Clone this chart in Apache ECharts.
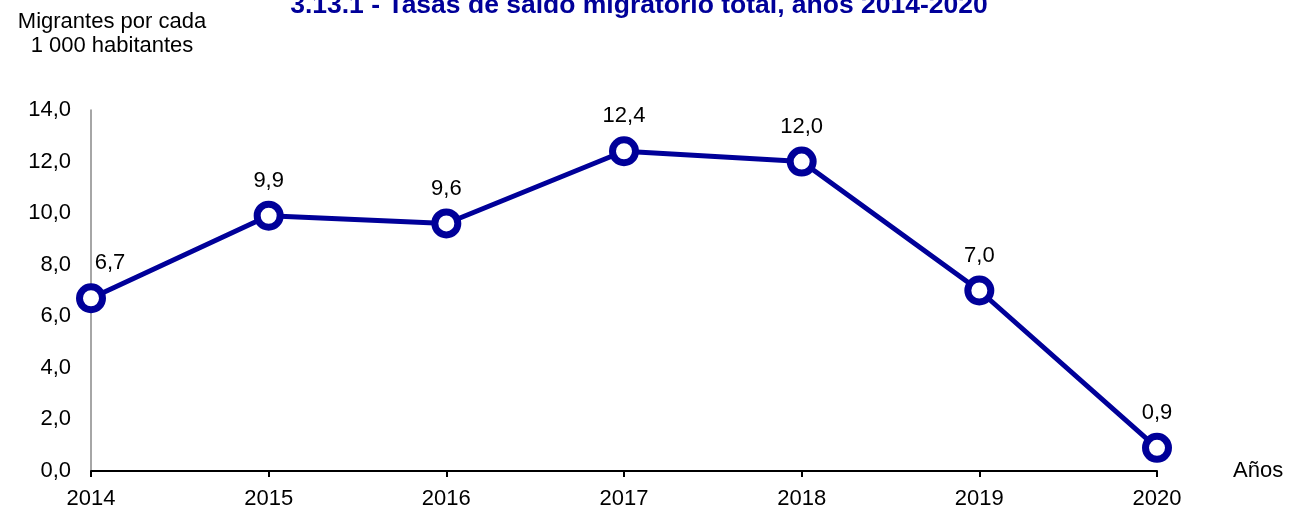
<!DOCTYPE html>
<html>
<head>
<meta charset="utf-8">
<script src="https://cdn.jsdelivr.net/npm/echarts@6/dist/echarts.min.js"></script>
<style>
  html, body { margin: 0; padding: 0; background: #fff; }
  #echart { width: 1292px; height: 510px; }
</style>
</head>
<body>
<div id="echart"></div>
<script>
var years = ['2014', '2015', '2016', '2017', '2018', '2019', '2020'];
var tasas = [6.7, 9.9, 9.6, 12.4, 12.0, 7.0, 0.9];
var yTicks = [0, 2, 4, 6, 8, 10, 12, 14];

function coma(v, d) {
    return v.toFixed(d).replace('.', ',');
}

var myChart = echarts.init(document.getElementById('echart'));
var option = {
    animation: false,
    textStyle: { fontFamily: 'Liberation Sans, Arial, sans-serif' },
    title: {
        text: '3.13.1 - Tasas de saldo migratorio total, años 2014-2020',
        left: 634,
        textAlign: 'center',
        top: -13,
        textStyle: { color: '#000099', fontSize: 26.5, fontWeight: 'bold' }
    },
    graphic: [
        {
            type: 'text',
            style: {
                text: 'Migrantes por cada\n1 000 habitantes',
                x: 112, y: 10, align: 'center', lineHeight: 24,
                fill: '#000', font: '22px "Liberation Sans", Arial, sans-serif'
            }
        }
    ],
    grid: { left: 91, right: 135, top: 110, bottom: 39 },
    xAxis: {
        type: 'category',
        data: years,
        boundaryGap: false,
        name: 'Años',
        nameLocation: 'end',
        nameGap: 76,
        nameTextStyle: { fontSize: 22, color: '#000', padding: [0, 0, 8, 0] },
        axisLine: { lineStyle: { color: '#000', width: 2 } },
        axisTick: { show: true, length: 6, lineStyle: { color: '#000', width: 2 } },
        axisLabel: { fontSize: 22, color: '#000', margin: 17 },
        splitLine: { show: false }
    },
    yAxis: {
        type: 'value',
        min: yTicks[0],
        max: yTicks[yTicks.length - 1],
        interval: 2,
        axisLine: { show: true, lineStyle: { color: '#888', width: 1.5 } },
        axisTick: { show: false },
        splitLine: { show: false },
        axisLabel: {
            fontSize: 22, color: '#000', margin: 20,
            formatter: function (v) { return coma(v, 1); }
        }
    },
    series: [
        {
            type: 'line',
            data: tasas,
            symbol: 'circle',
            symbolSize: 23,
            lineStyle: { color: '#000099', width: 5 },
            itemStyle: { color: '#fff', borderColor: '#000099', borderWidth: 7 },
            label: {
                show: true,
                position: 'top',
                distance: 9,
                fontSize: 22,
                color: '#000',
                formatter: function (p) { return coma(p.value, 1); }
            },
            labelLayout: function (params) {
                if (params.dataIndex === 0) {
                    return { dx: 19 };
                }
            }
        }
    ]
};
myChart.setOption(option);
window.onresize = myChart.resize;
</script>
</body>
</html>
